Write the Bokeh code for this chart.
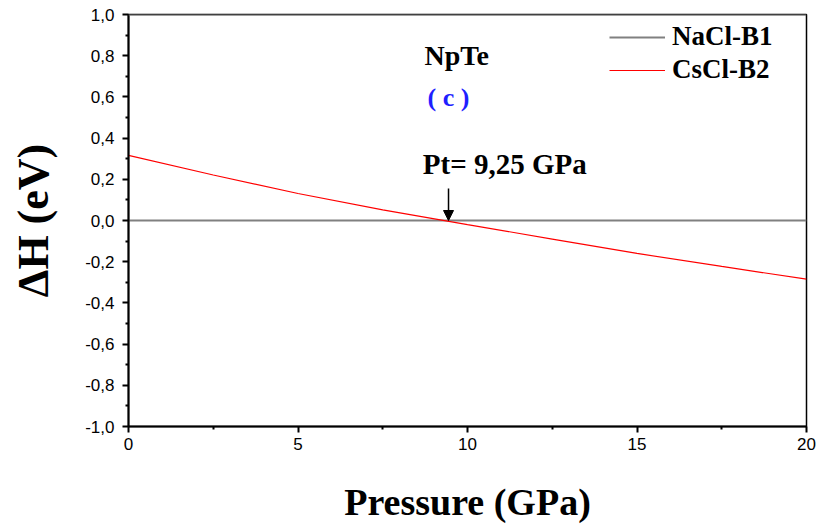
from bokeh.plotting import figure
from bokeh.models import (FixedTicker, CustomJSTickFormatter, Label, Arrow, NormalHead,
                          Span, Legend, LegendItem)
from bokeh.embed import file_html
from bokeh.resources import INLINE

# Data
pressure = [0, 2.5, 5, 7.5, 10, 12.5, 15, 17.5, 20]
dh_nacl = [0, 0, 0, 0, 0, 0, 0, 0, 0]
dh_cscl = [0.316, 0.221, 0.131, 0.052, -0.020, -0.090, -0.160, -0.223, -0.285]
x_ticks = [0, 5, 10, 15, 20]
x_minor = [2.5, 7.5, 12.5, 17.5]
y_ticks = [-1.0, -0.8, -0.6, -0.4, -0.2, 0.0, 0.2, 0.4, 0.6, 0.8, 1.0]
y_minor = [-0.9, -0.7, -0.5, -0.3, -0.1, 0.1, 0.3, 0.5, 0.7, 0.9]
pt_arrow_x = 9.44

p = figure(width=818, height=525, output_backend="svg", toolbar_location=None,
           x_range=(0, 20), y_range=(-1.0, 1.0),
           min_border_left=128, min_border_right=12, min_border_top=14, min_border_bottom=99)
p.background_fill_color = "white"
p.border_fill_color = "white"
p.grid.visible = False
p.outline_line_color = "black"
p.outline_line_width = 1.5

p.add_layout(Span(location=1.0, dimension="width", line_color="#808080", line_width=2))

r1 = p.line(pressure, dh_nacl, line_color="#808080", line_width=2)
r2 = p.line(pressure, dh_cscl, line_color="red", line_width=1.2)

fmt = CustomJSTickFormatter(code="return tick.toFixed(1).replace('.', ',').replace('-0,0','0,0');")
for ax, major, minor in ((p.xaxis[0], x_ticks, x_minor), (p.yaxis[0], y_ticks, y_minor)):
    ax.ticker = FixedTicker(ticks=major, minor_ticks=minor)
    ax.axis_line_width = 2
    ax.axis_line_color = "black"
    ax.major_tick_line_width = 2
    ax.minor_tick_line_width = 2
    ax.major_tick_out = 6
    ax.major_tick_in = 0
    ax.minor_tick_out = 3
    ax.minor_tick_in = 0
    ax.major_label_text_font = "Liberation Sans"
    ax.major_label_text_font_size = "17px"
    ax.major_label_text_color = "black"
    ax.axis_label_text_font = "Liberation Serif"
    ax.axis_label_text_font_style = "bold"
    ax.axis_label_text_color = "black"

p.yaxis[0].formatter = fmt
p.yaxis[0].major_label_standoff = 8
p.xaxis[0].axis_label = "Pressure (GPa)"
p.yaxis[0].axis_label = "ΔH (eV)"
p.xaxis[0].axis_label_text_font_size = "38px"
p.yaxis[0].axis_label_text_font_size = "44px"
p.xaxis[0].axis_label_standoff = 28
p.yaxis[0].axis_label_standoff = 24

legend = Legend(items=[LegendItem(label="NaCl-B1", renderers=[r1]),
                       LegendItem(label="CsCl-B2", renderers=[r2])],
                location="top_right")
legend.border_line_color = None
legend.background_fill_alpha = 0
legend.label_text_font = "Liberation Serif"
legend.label_text_font_style = "bold"
legend.label_text_font_size = "27px"
legend.label_text_color = "black"
legend.glyph_width = 56
legend.spacing = 2
legend.margin = 7
legend.padding = 5
legend.label_width = 127
legend.label_standoff = 7
p.add_layout(legend)

serif = "Liberation Serif"
p.add_layout(Label(x=9.68, y=0.80, text="NpTe", text_font=serif, text_font_style="bold",
                   text_font_size="28px", text_color="black",
                   text_align="center", text_baseline="middle"))
p.add_layout(Label(x=9.44, y=0.597, text="( c )", text_font=serif, text_font_style="bold",
                   text_font_size="26px", text_color="#1f1fff", text_align="center",
                   text_baseline="middle"))
p.add_layout(Label(x=11.1, y=0.272, text="Pt= 9,25 GPa", text_font=serif, text_font_style="bold",
                   text_font_size="29px", text_color="black",
                   text_align="center", text_baseline="middle"))
p.add_layout(Arrow(x_start=pt_arrow_x, y_start=0.155, x_end=pt_arrow_x, y_end=0.0,
                   line_width=1.5, end=NormalHead(size=10, fill_color="black", line_width=1)))

open("out.html", "w").write(file_html(p, INLINE))
